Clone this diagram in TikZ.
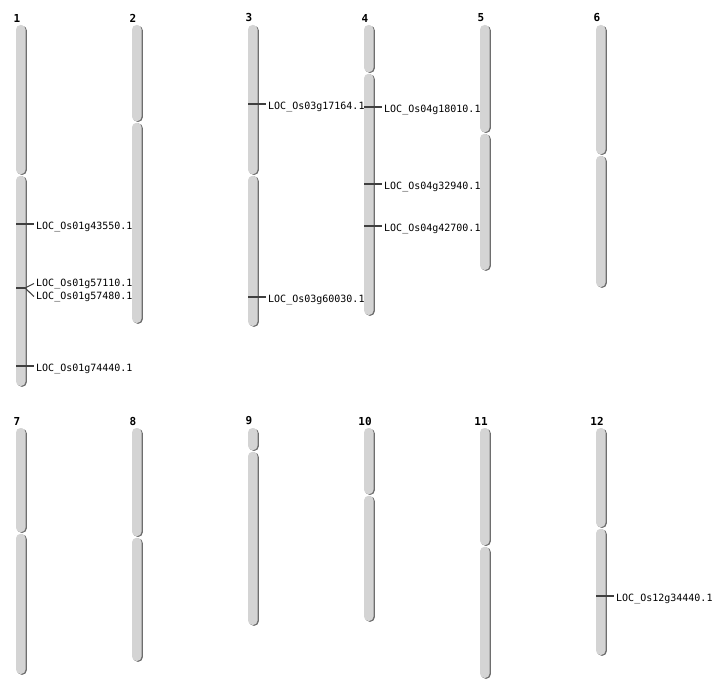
\documentclass[tikz,border=0pt]{standalone}
\usepackage{fontspec}
\setmonofont{DejaVu Sans Mono}
\usepackage[HTML]{xcolor}
\usepackage{tikz}
\usetikzlibrary{positioning}
\definecolor{armgray}{HTML}{D4D4D4}
\definecolor{armshade}{HTML}{6E6E6E}
\definecolor{tickgray}{HTML}{404040}

\begin{document}
\begin{tikzpicture}[x=1pt,y=-1pt,
  arm/.style={fill=armgray,rounded corners=4.5pt},
  armshadow/.style={fill=armshade,rounded corners=4.5pt},
  chrnum/.style={font=\ttfamily\bfseries\fontsize{11}{13}\selectfont,inner sep=0pt},
  gene/.style={font=\ttfamily\fontsize{10}{12}\selectfont,inner sep=2pt,anchor=west,yshift=-2.5pt},
  tick/.style={draw=tickgray,line width=1.1pt}]
\useasboundingbox (0,0) rectangle (712,700);
% chromosomes: x / top / centromere / bottom / number
\foreach \c/\t/\m/\b/\n in {21/25/175/386/1, 137/25/122/323/2, 253/25/175/326/3,
    369/25/73/315/4, 485/25/133/270/5, 601/25/155/287/6,
    21/428/533/674/7, 137/428/537/661/8, 253/428/451/625/9,
    369/428/495/621/10, 485/428/546/678/11, 601/428/528/655/12}{
  \fill[armshadow] (\c-3.8,\t+0.8) rectangle (\c+5.8,\m-0.1);
  \fill[armshadow] (\c-3.8,\m+1.5) rectangle (\c+5.8,\b+0.8);
  \fill[arm] (\c-5,\t) rectangle (\c+4.5,\m-0.8);
  \fill[arm] (\c-5,\m+0.8) rectangle (\c+4.5,\b);
  \node[chrnum] (chr\n) at (\c-4,\t-7) {\n};
}
% chromosome 1
\node[gene] (g43550) at (34,224) {LOC\_Os01g43550.1};
\draw[tick] (16,224) -- (16,224 -| g43550.west);
\node[gene] (g57110) at (34,281) {LOC\_Os01g57110.1};
\node[gene] (g57480) at (34,294) {LOC\_Os01g57480.1};
\coordinate (fork1) at (25,288);
\draw[tick,line width=2.8pt] (16,288) -- (fork1);
\draw[tick] (fork1) -- (g57110.west);
\draw[tick] (fork1) -- (g57480.west);
\node[gene] (g74440) at (34,366) {LOC\_Os01g74440.1};
\draw[tick] (16,366) -- (16,366 -| g74440.west);
% chromosome 3
\node[gene] (g17164) at (266,104) {LOC\_Os03g17164.1};
\draw[tick] (248,104) -- (248,104 -| g17164.west);
\node[gene] (g60030) at (266,297) {LOC\_Os03g60030.1};
\draw[tick] (248,297) -- (248,297 -| g60030.west);
% chromosome 4
\node[gene] (g18010) at (382,107) {LOC\_Os04g18010.1};
\draw[tick] (364,107) -- (364,107 -| g18010.west);
\node[gene] (g32940) at (382,184) {LOC\_Os04g32940.1};
\draw[tick] (364,184) -- (364,184 -| g32940.west);
\node[gene] (g42700) at (382,226) {LOC\_Os04g42700.1};
\draw[tick] (364,226) -- (364,226 -| g42700.west);
% chromosome 12
\node[gene] (g34440) at (614,596) {LOC\_Os12g34440.1};
\draw[tick] (596,596) -- (596,596 -| g34440.west);
\end{tikzpicture}
\end{document}
